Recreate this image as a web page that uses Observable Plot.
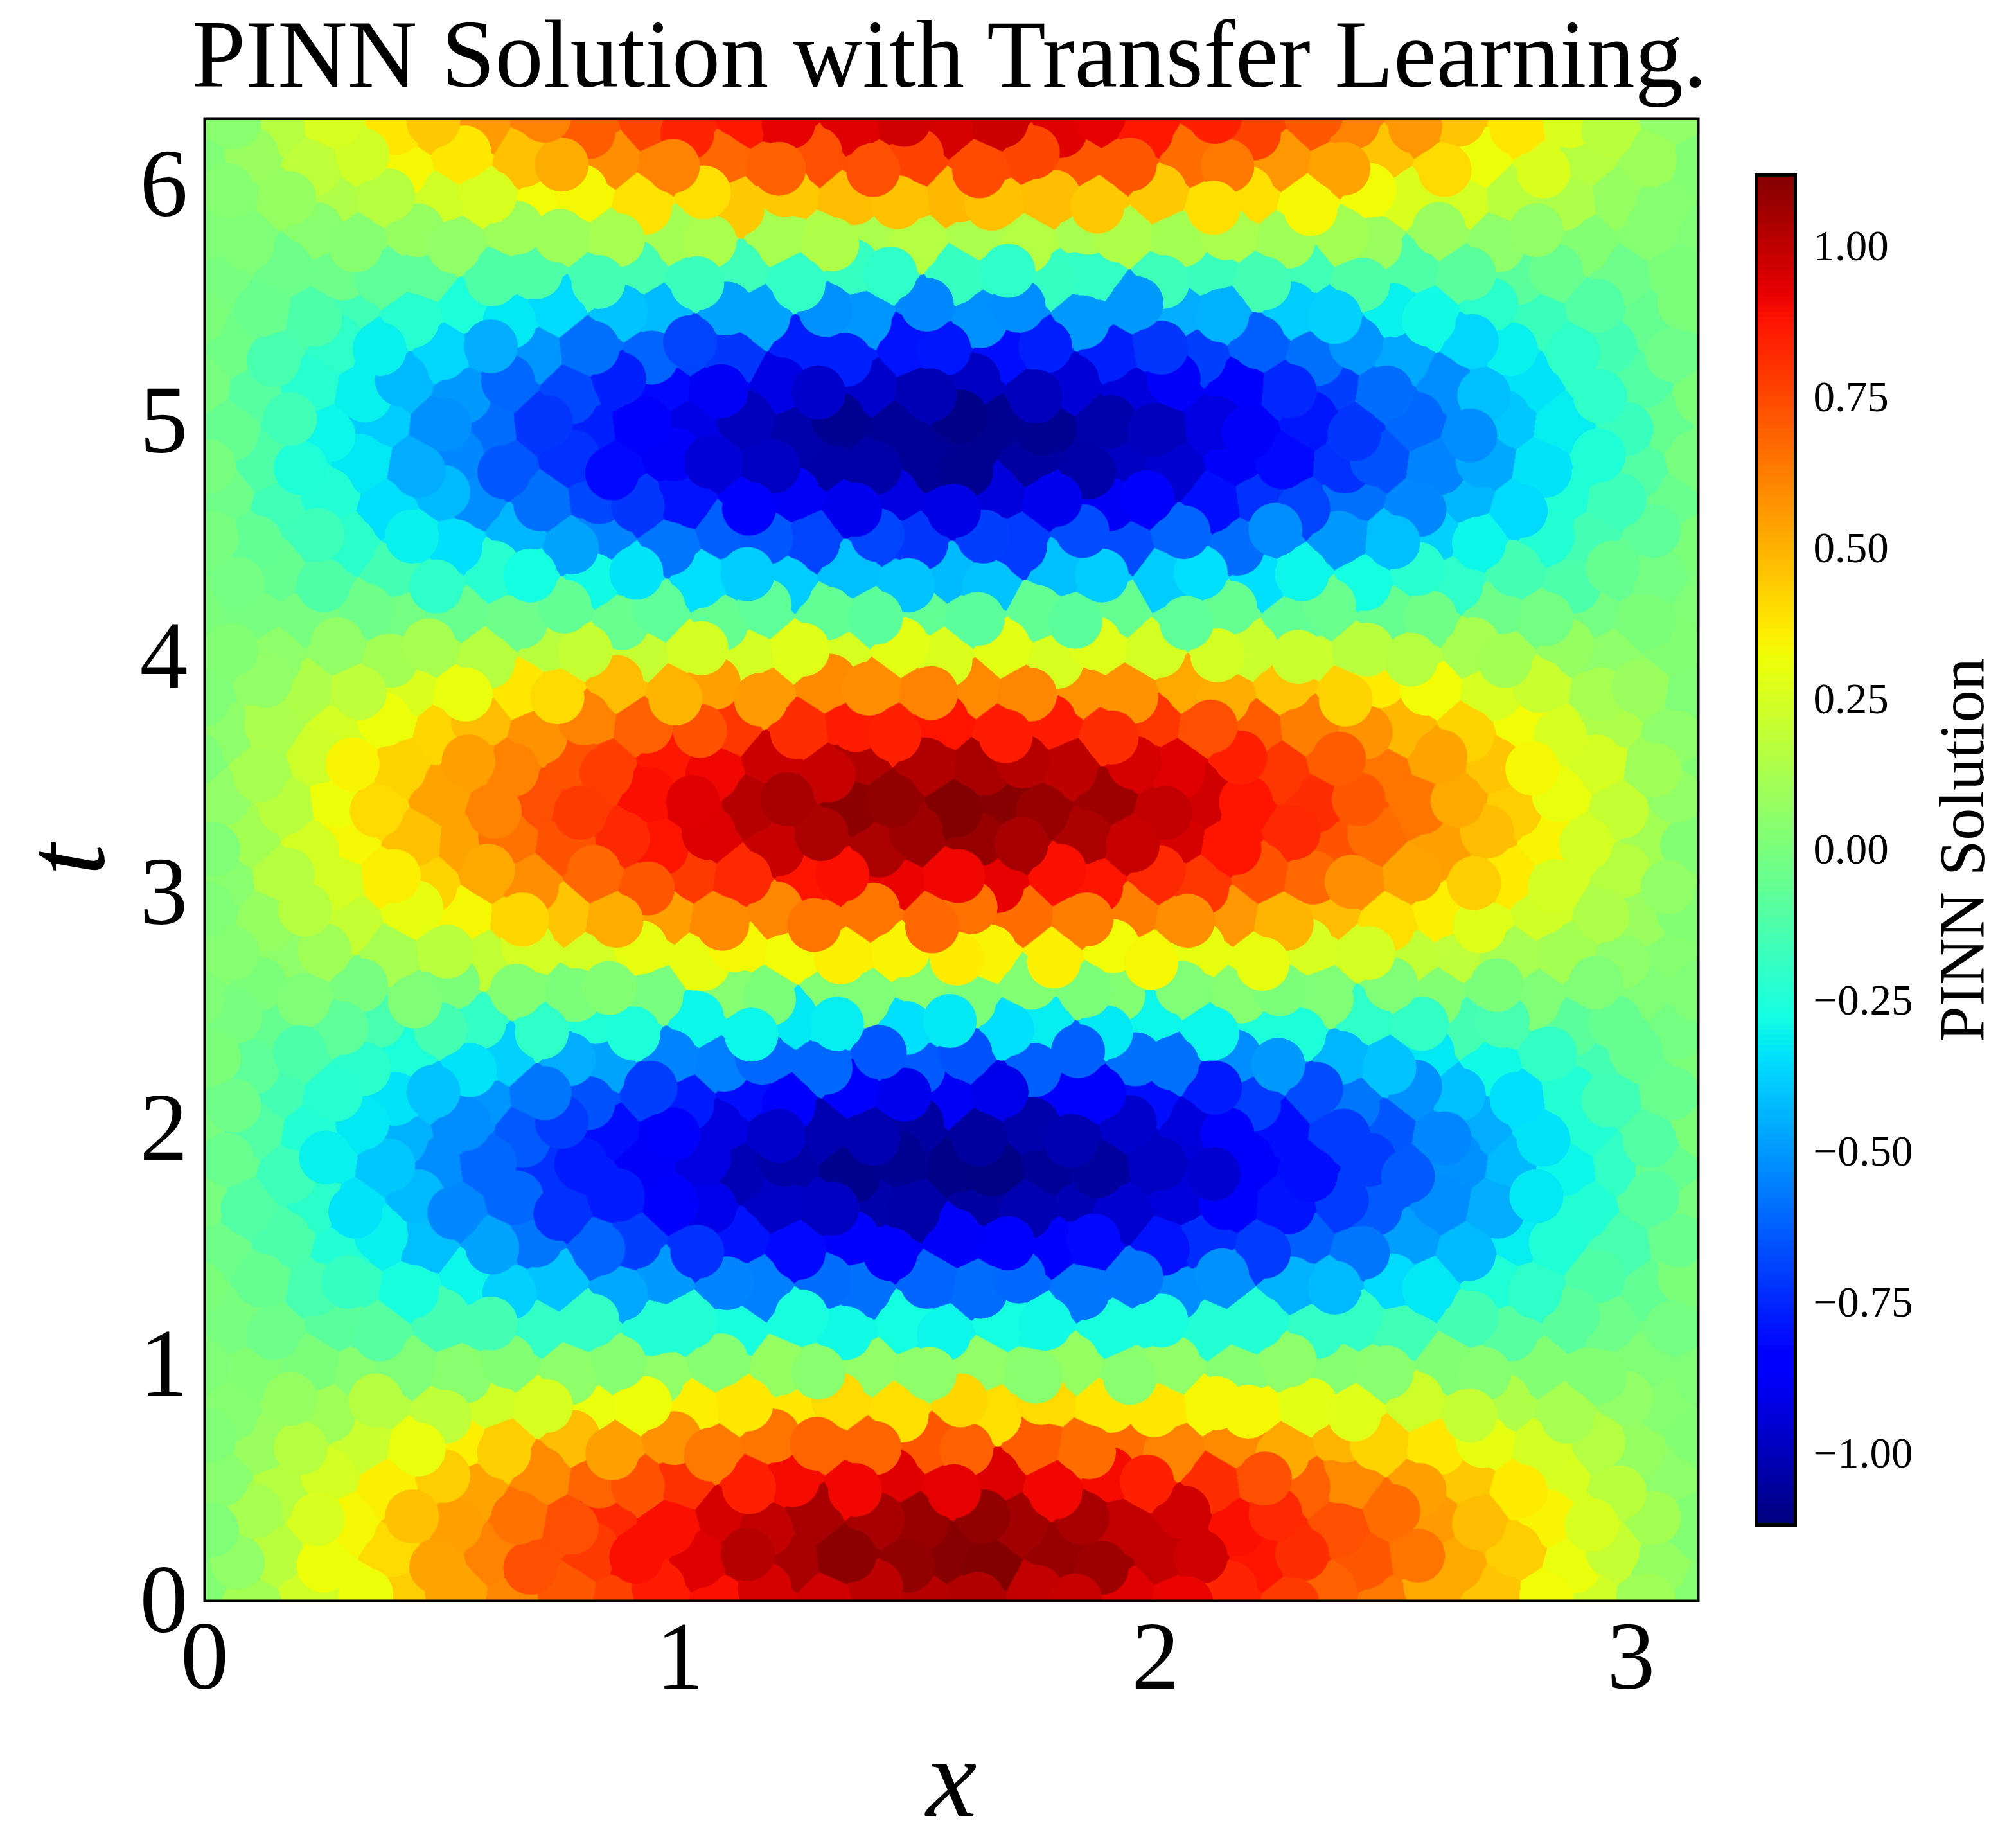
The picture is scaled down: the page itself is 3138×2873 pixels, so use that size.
<!DOCTYPE html>
<html><head><meta charset="utf-8">
<script src="https://cdn.jsdelivr.net/npm/d3@7"></script>
<script src="https://cdn.jsdelivr.net/npm/@observablehq/plot@0.6"></script>
<style>
html,body{margin:0;padding:0;background:#fff}
#page{position:relative;width:3138px;height:2873px;overflow:hidden;font-family:"Liberation Serif",serif}
#title{position:absolute;left:0;top:0;width:2956px;height:170px;line-height:170px;text-align:center;font-size:150.3px;color:#000;white-space:nowrap}
#main{position:absolute;left:0;top:170px}
#bar{position:absolute;left:2700px;top:170px}
svg{overflow:visible}
</style></head><body>
<div id="page"><div id="title">PINN Solution with Transfer Learning.</div><div id="main"></div><div id="bar"></div></div>
<script>
// Values of u (in hundredths) are estimated by eye from the reference colours on a staggered grid;
// the reference's individual scatter dots are not recoverable, so positions approximate them.
const xTicks = [0,1,2,3];
const tTicks = [0,1,2,3,4,5,6];
const barTicks = [-1,-0.75,-0.5,-0.25,0,0.25,0.5,0.75,1];
const uRange = [-1.118,1.118];
const xEven = [0,.11,.22,.32,.43,.54,.65,.76,.86,.97,1.08,1.19,1.30,1.40,1.51,1.62,1.73,1.84,1.94,2.05,2.16,2.27,2.38,2.48,2.59,2.70,2.81,2.92,3.03,3.13];
const xOdd = [.05,.16,.27,.38,.49,.59,.70,.81,.92,1.03,1.13,1.24,1.35,1.46,1.57,1.67,1.78,1.89,2.00,2.11,2.21,2.32,2.43,2.54,2.65,2.75,2.86,2.97,3.08];
const tRows = [.02,.18,.34,.50,.66,.82,.98,1.17,1.34,1.51,1.68,1.84,1.99,2.14,2.29,2.44,2.58,2.74,2.90,3.06,3.22,3.38,3.54,3.70,3.86,4.02,4.18,4.34,4.50,4.66,4.82,4.98,5.14,5.30,5.46,5.62,5.78,5.94,6.10,6.26];
const xNudge = [.012,-.018,.006,.02,-.009,-.02,.015,-.003,.018,-.015,.006,-.012,.009];
const tNudge = [.03,-.018,-.04,.012,.04,-.03,.006,.035,-.012,-.035,.018];
const uRows = [
[2,11,23,31,43,53,60,71,76,85,88,95,96,100,101,102,99,98,93,91,83,78,69,63,52,45,32,23,10,3],
[6,17,31,40,53,61,73,78,88,93,101,104,109,108,110,111,107,106,99,96,87,81,71,64,52,43,30,20,7],
[1,12,25,33,46,54,65,73,82,88,95,99,104,104,107,108,105,104,99,96,88,82,73,66,55,47,34,25,11,2],
[4,16,24,35,43,53,59,68,72,80,84,89,90,93,92,94,90,89,84,81,73,69,59,54,44,36,25,17,5],
[1,8,16,21,30,35,43,47,54,57,63,64,68,68,71,69,70,66,66,61,59,52,49,42,37,29,24,15,7,2],
[3,7,10,16,18,23,25,30,31,35,37,37,40,39,41,39,40,37,37,33,33,28,27,22,20,14,12,6,3],
[1,2,0,3,1,4,2,5,3,6,3,7,4,6,5,6,4,7,4,6,3,5,3,4,2,3,2,2,1,1],
[-1,-4,-9,-10,-15,-15,-20,-20,-24,-24,-27,-27,-29,-28,-30,-28,-29,-27,-27,-24,-24,-20,-20,-16,-15,-10,-9,-4,-2],
[0,-6,-14,-19,-27,-30,-38,-41,-47,-50,-55,-56,-60,-59,-62,-60,-61,-58,-58,-53,-52,-45,-43,-36,-33,-25,-21,-12,-7,0],
[-4,-13,-24,-31,-42,-48,-58,-62,-70,-73,-80,-82,-86,-85,-88,-86,-86,-82,-80,-74,-71,-63,-58,-49,-43,-32,-25,-14,-5],
[-1,-11,-22,-34,-43,-54,-61,-73,-78,-87,-91,-98,-99,-103,-104,-105,-102,-101,-96,-94,-85,-80,-71,-64,-53,-46,-33,-24,-10,-1],
[-5,-17,-31,-40,-53,-61,-73,-78,-88,-93,-101,-104,-109,-108,-110,-111,-107,-106,-99,-96,-87,-81,-71,-64,-52,-43,-30,-20,-6],
[-1,-11,-24,-33,-45,-53,-64,-71,-81,-86,-93,-97,-102,-102,-105,-106,-103,-102,-97,-94,-86,-81,-71,-65,-54,-46,-34,-24,-11,0],
[-4,-15,-23,-34,-41,-51,-58,-66,-70,-78,-81,-87,-87,-90,-89,-91,-87,-87,-81,-78,-71,-67,-58,-52,-42,-35,-24,-16,-5],
[0,-8,-13,-22,-26,-34,-38,-46,-48,-55,-56,-61,-61,-65,-64,-66,-63,-63,-59,-59,-53,-50,-44,-41,-33,-29,-20,-15,-6,0],
[-1,-6,-8,-14,-15,-20,-21,-25,-26,-30,-30,-33,-32,-35,-33,-35,-32,-33,-30,-30,-26,-26,-21,-20,-15,-14,-9,-6,-2],
[1,0,1,-1,1,0,2,0,2,-1,3,0,2,1,3,0,2,0,2,1,3,0,1,1,2,0,1,1,1,1],
[3,5,10,12,17,19,24,24,29,29,33,32,35,34,36,34,35,32,33,29,29,25,24,19,18,12,11,5,3],
[1,7,16,20,29,33,41,45,51,54,59,60,64,64,67,65,66,62,62,58,56,49,47,39,35,27,23,14,8,2],
[4,16,24,35,42,52,58,67,71,78,82,87,88,91,90,92,88,87,82,79,72,67,58,53,43,36,24,16,6],
[1,11,24,33,46,53,65,72,82,87,94,98,103,103,106,107,104,103,98,95,87,82,72,66,54,47,34,24,11,2],
[6,17,31,40,53,61,73,78,88,93,101,104,109,108,111,110,107,106,99,96,87,81,71,64,52,43,30,20,6],
[1,12,22,34,42,54,61,72,77,86,90,97,98,102,102,104,101,100,95,93,84,79,70,64,53,45,33,24,10,2],
[5,13,24,31,41,47,57,61,69,72,79,81,85,84,87,85,85,81,79,73,70,62,57,48,42,32,25,14,5],
[1,6,14,18,26,30,37,40,47,49,54,55,59,58,61,59,60,57,57,52,51,45,42,36,32,25,21,12,8,1],
[2,5,6,11,12,16,17,20,20,24,24,27,25,28,26,28,25,27,24,24,21,21,17,16,12,11,7,5,2],
[0,-1,-1,-4,-2,-5,-4,-7,-5,-8,-6,-8,-7,-9,-7,-9,-7,-9,-6,-8,-6,-7,-5,-6,-3,-4,-2,-2,0,1],
[-2,-6,-12,-15,-21,-23,-28,-29,-34,-35,-39,-39,-42,-41,-43,-41,-42,-39,-39,-35,-35,-30,-28,-23,-21,-15,-13,-6,-2],
[-1,-7,-17,-22,-31,-35,-44,-48,-55,-58,-63,-65,-69,-69,-72,-70,-71,-67,-67,-62,-60,-53,-50,-42,-38,-30,-24,-15,-8,0],
[-4,-16,-24,-35,-43,-53,-59,-68,-72,-80,-84,-89,-90,-93,-92,-94,-90,-89,-84,-81,-73,-69,-59,-54,-44,-36,-25,-17,-5],
[-1,-12,-25,-33,-46,-54,-65,-73,-82,-88,-95,-99,-104,-104,-107,-108,-105,-104,-99,-96,-88,-82,-73,-66,-55,-47,-34,-25,-11,-1],
[-6,-16,-30,-39,-52,-60,-72,-77,-87,-92,-100,-103,-108,-107,-110,-108,-108,-103,-100,-93,-88,-79,-72,-61,-53,-40,-32,-18,-6],
[-1,-10,-23,-31,-43,-50,-61,-68,-77,-82,-89,-92,-97,-97,-101,-99,-100,-95,-94,-88,-84,-75,-70,-60,-53,-42,-34,-21,-11,0],
[-3,-14,-21,-31,-37,-46,-51,-59,-62,-69,-72,-77,-77,-80,-79,-81,-77,-77,-72,-70,-63,-59,-51,-47,-37,-31,-21,-15,-4],
[0,-5,-13,-16,-23,-26,-33,-36,-41,-43,-48,-48,-52,-51,-54,-52,-53,-50,-50,-46,-45,-39,-38,-31,-29,-22,-18,-11,-6,0],
[-1,-4,-4,-8,-8,-12,-12,-15,-15,-18,-17,-20,-19,-21,-19,-21,-19,-20,-17,-18,-15,-16,-12,-12,-9,-9,-5,-4,0],
[1,1,4,3,7,6,9,9,12,11,13,12,14,13,15,13,15,12,14,11,13,10,11,8,8,5,6,2,3,1],
[3,7,14,16,23,25,32,33,38,39,44,44,47,46,48,46,47,44,44,39,39,33,32,26,24,17,14,7,3],
[1,8,18,23,33,37,46,51,58,61,67,69,73,73,76,74,75,71,71,66,63,56,53,45,40,31,26,16,9,2],
[4,16,25,37,44,55,61,70,75,83,86,92,93,96,95,97,93,92,86,84,76,71,61,56,45,37,26,17,6]
];
// matplotlib jet anchor points
const jetPos = [0,.11,.125,.34,.35,.375,.64,.65,.66,.89,.91,1];
const jetR = [0,0,0,0,0,.0806,.935,.968,1,1,.909,.5];
const jetG = [0,0,0,.86,.9,1,1,.963,.926,.074,0,0];
const jetB = [.5,1,1,1,.968,.887,.032,0,0,0,0,0];
const jetLerp = (a,i,f) => a[i] + (a[i+1]-a[i])*f;
const jet = t => {
  t = Math.max(0,Math.min(1,t));
  let i = d3.bisectRight(jetPos,t)-1; if (i>=jetPos.length-1) i = jetPos.length-2;
  const f = (t-jetPos[i])/(jetPos[i+1]-jetPos[i]);
  return `rgb(${Math.round(255*jetLerp(jetR,i,f))},${Math.round(255*jetLerp(jetG,i,f))},${Math.round(255*jetLerp(jetB,i,f))})`;
};
const colorScale = {type:"linear",domain:uRange,interpolate:jet};
const points = uRows.flatMap((row,i)=>row.map((v,j)=>({
  x:(i%2?xOdd:xEven)[j]+xNudge[(i*3+j)%xNudge.length],
  t:tRows[i]+tNudge[(i+j*2)%tNudge.length],
  u:v/100
})));
points.forEach((p,k)=>{p.order=(k*617)%points.length;});
const serif = '"Liberation Serif",serif';
const main = Plot.plot({
  width:3138,height:2703,marginLeft:318,marginRight:495,marginTop:14,marginBottom:382,
  style:{fontFamily:serif,background:"transparent",overflow:"visible"},
  x:{domain:[0,Math.PI],label:null},
  y:{domain:[0,2*Math.PI],label:null},
  color:colorScale,
  marks:[
    Plot.raster(points,{x:"x",y:"t",fill:"u",interpolate:"nearest",pixelSize:1}),
    Plot.dot(points,{x:"x",y:"t",r:42,fill:"u",sort:"order",clip:"frame"}),
    Plot.frame({stroke:"#000",strokeWidth:4}),
    Plot.axisX({ticks:xTicks,tickSize:0,tickPadding:30,fontSize:150,label:null,tickFormat:d=>String(d)}),
    Plot.axisY({ticks:tTicks,tickSize:0,tickPadding:26,fontSize:150,label:null,tickFormat:d=>String(d)}),
    Plot.text(["x"],{frameAnchor:"bottom",dy:279,lineAnchor:"middle",fontSize:178,fontStyle:"italic",fill:"#000"}),
    Plot.text(["t"],{frameAnchor:"left",dx:-214,textAnchor:"middle",lineAnchor:"middle",rotate:-90,fontSize:178,fontStyle:"italic",fill:"#000"})
  ]
});
document.getElementById("main").append(main);
const barLevels = d3.range(256).map(i=>uRange[0]+(uRange[1]-uRange[0])*i/256);
const barStep = (uRange[1]-uRange[0])/256;
const bar = Plot.plot({
  width:438,height:2703,marginLeft:33,marginRight:344,marginTop:102,marginBottom:500,
  style:{fontFamily:serif,background:"transparent",overflow:"visible"},
  x:{domain:[0,1],axis:null},
  y:{domain:uRange,label:null},
  color:colorScale,
  marks:[
    Plot.rect(barLevels,{x1:0,x2:1,y1:d=>d,y2:d=>d+barStep,fill:d=>d,shapeRendering:"crispEdges"}),
    Plot.frame({stroke:"#000",strokeWidth:5}),
    Plot.axisY({anchor:"right",ticks:barTicks,tickSize:0,tickPadding:28,fontSize:67,label:null,tickFormat:d3.format(".2f")}),
    Plot.text(["PINN Solution"],{frameAnchor:"right",dx:260,textAnchor:"middle",lineAnchor:"middle",rotate:-90,fontSize:100,fill:"#000"})
  ]
});
document.getElementById("bar").append(bar);
</script>
</body></html>
